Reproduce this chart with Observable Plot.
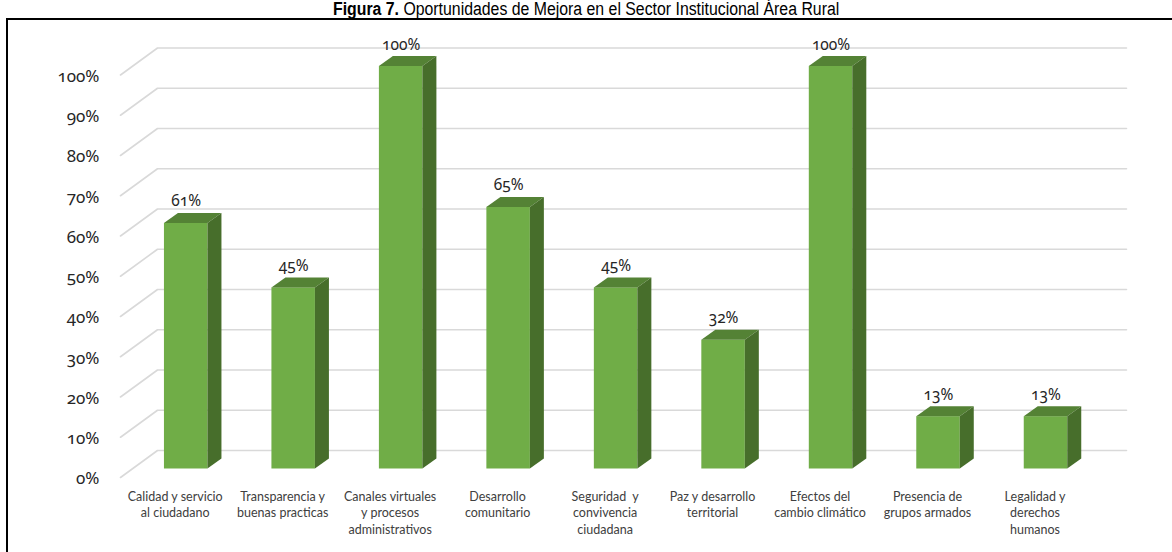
<!DOCTYPE html>
<html><head><meta charset="utf-8">
<script src="https://cdn.jsdelivr.net/npm/d3@7"></script>
<script src="https://cdn.jsdelivr.net/npm/@observablehq/plot@0.6"></script>
<style>
html,body{margin:0;padding:0;background:#fff}
body{width:1172px;height:552px;overflow:hidden;position:relative}
#title{position:absolute;left:0;top:0px;width:1172px;text-align:center;font:18px "Liberation Sans",Arial,sans-serif;color:#000;line-height:18px;white-space:nowrap;transform:scaleX(0.88);transform-origin:587px 0}
#frame{position:absolute;left:6px;top:18px;width:1166px;height:534px;border-left:2px solid #000;border-top:2px solid #000}
#frame svg{display:block}
</style></head><body>
<div id="title"><b>Figura 7.</b> Oportunidades de Mejora en el Sector Institucional Área Rural</div>
<div id="frame"></div>
<script>
const categories = [
  "Calidad y servicio\nal ciudadano",
  "Transparencia y\nbuenas practicas",
  "Canales virtuales\ny procesos\nadministrativos",
  "Desarrollo\ncomunitario",
  "Seguridad  y\nconvivencia\nciudadana",
  "Paz y desarrollo\nterritorial",
  "Efectos del\ncambio climático",
  "Presencia de\ngrupos armados",
  "Legalidad y\nderechos\nhumanos"
];
const values = [61, 45, 100, 65, 45, 32, 100, 13, 13];
const yTicks = [0, 10, 20, 30, 40, 50, 60, 70, 80, 90, 100];

// layout (pixels inside the svg)
const W = 1164, H = 532;
const xRange = [177.7, 1037.5], yRange = [448.5, 46];
const pxX = (xRange[1] - xRange[0]) / 8;        // px per category step
const pxY = (yRange[0] - yRange[1]) / 100;      // px per percent
const toX = px => (px - xRange[0]) / pxX;       // svg px -> x data
const upY = px => px / pxY;                     // px up -> y data

const halfW = 21.75 / pxX;        // half front-face width
const ddx = 14 / pxX, ddy = upY(10);  // bar depth

const data = categories.map((c, i) => ({i, cat: c, v: values[i]}));

const topPts = data.flatMap(d => [
  {i: d.i, y: d.v, x1: d.i - halfW, x2: d.i + halfW},
  {i: d.i, y: d.v + ddy, x1: d.i - halfW + ddx, x2: d.i + halfW + ddx}
]);
const sidePts = data.flatMap(d => [
  {i: d.i, x: d.i + halfW, y1: 0, y2: d.v},
  {i: d.i, x: d.i + halfW + ddx, y1: ddy, y2: d.v + ddy}
]);
const gridPts = yTicks.flatMap(t => [
  {t, x: toX(112), y: t - upY(8.5)},
  {t, x: toX(149), y: t + upY(18.5)},
  {t, x: toX(1118), y: t + upY(18.5)}
]);

const numFont = {fontFamily: "'Noto Sans', sans-serif", fontVariant: "oldstyle-nums"};

const chart = Plot.plot({
  width: W, height: H,
  margin: 0,
  x: {type: "linear", domain: [0, 8], range: xRange, axis: null},
  y: {type: "linear", domain: [0, 100], range: yRange, axis: null},
  style: {fontFamily: "Lato, 'Open Sans', sans-serif", background: "transparent"},
  marks: [
    Plot.line(gridPts, {x: "x", y: "y", z: "t", stroke: "#d9d9d9", strokeWidth: 1.6}),
    Plot.rect(data, {x1: d => d.i - halfW, x2: d => d.i + halfW, y1: 0, y2: "v", fill: "#70ad47"}),
    Plot.areaX(topPts, {y: "y", x1: "x1", x2: "x2", z: "i", fill: "#548235"}),
    Plot.areaY(sidePts, {x: "x", y1: "y1", y2: "y2", z: "i", fill: "#476e2b"}),
    Plot.text(yTicks, {x: toX(91), y: d => d, text: d => d + "%", textAnchor: "end", dy: 10, fontSize: 17, fill: "#262626", ...numFont}),
    Plot.text(data, {x: "i", y: "v", text: d => d.v + "%", lineAnchor: "bottom", dy: -17, fontSize: 15.5, fill: "#262626", ...numFont}),
    Plot.text(data, {x: "i", y: 0, text: "cat", lineAnchor: "top", dx: -11, dy: 20, fontSize: 12.5, lineHeight: 1.32, fill: "#404040"})
  ]
});
document.getElementById("frame").appendChild(chart);
</script>
</body></html>
